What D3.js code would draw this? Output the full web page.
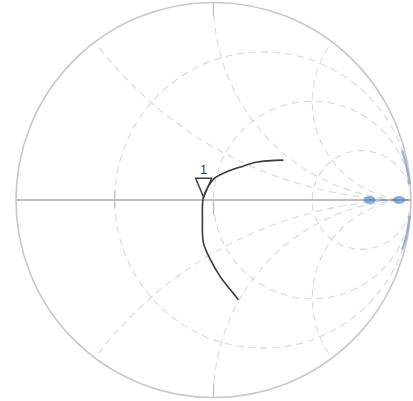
<!DOCTYPE html>
<html>
<head>
<meta charset="utf-8">
<script src="https://cdn.jsdelivr.net/npm/d3@7"></script>
<style>
html,body{margin:0;padding:0;background:#fff;}
svg{display:block;}
</style>
</head>
<body>
<svg id="chart" width="413" height="401"></svg>
<script>
// Grid values (normalized impedance)
const resistanceValues = [1/3, 1, 3];
const reactanceValues = [0.5, 1, 2, -0.5, -1, -2];
// Main trace, reflection coefficient (real, imag)
const traceRe = [0.354, 0.222, 0.136, 0.051, 0.003, -0.028, -0.052, -0.056, -0.051, -0.015, 0.035, 0.086, 0.126];
const traceIm = [0.202, 0.192, 0.167, 0.136, 0.108, 0.066, 0.010, -0.101, -0.217, -0.303, -0.389, -0.455, -0.505];
// Marker
const markerLabels = ["1"];
const markerRe = [-0.050];
const markerIm = [0.014];
// Secondary (blue) trace near open circuit
const blueRimRe = [0.955, 0.972, 0.985, 0.992];
const blueRimIm = [0.25, 0.19, 0.13, 0.08];
const blueRim2Re = [0.992, 0.985, 0.972, 0.955];
const blueRim2Im = [-0.08, -0.14, -0.20, -0.25];
const blueDotRe = [0.79, 0.94];
const blueDotIm = [0.0, 0.0];

const cx = 213.5, cy = 200, R = 197.5;
const x = d3.scaleLinear().domain([-1, 1]).range([cx - R, cx + R]);
const y = d3.scaleLinear().domain([-1, 1]).range([cy + R, cy - R]);
const k = R; // pixels per unit

const svg = d3.select("#chart");
svg.append("defs").append("clipPath").attr("id", "unit")
  .append("circle").attr("cx", x(0)).attr("cy", y(0)).attr("r", k);

const grid = svg.append("g").attr("clip-path", "url(#unit)")
  .attr("fill", "none").attr("stroke", "#d8d8d8").attr("stroke-width", 1.1)
  .attr("stroke-dasharray", "7,5");

grid.selectAll("circle.r").data(resistanceValues).join("circle")
  .attr("class", "r")
  .attr("cx", r => x(r / (1 + r)))
  .attr("cy", y(0))
  .attr("r", r => k / (1 + r));

grid.selectAll("circle.x").data(reactanceValues).join("circle")
  .attr("class", "x")
  .attr("cx", x(1))
  .attr("cy", v => y(1 / v))
  .attr("r", v => k / Math.abs(v));

// Horizontal axis
svg.append("line")
  .attr("x1", x(-1)).attr("x2", x(1)).attr("y1", y(0)).attr("y2", y(0))
  .attr("stroke", "#a8a8a8").attr("stroke-width", 1.3);

// Outer circle
svg.append("circle").attr("cx", x(0)).attr("cy", y(0)).attr("r", k)
  .attr("fill", "none").attr("stroke", "#c8c8c8").attr("stroke-width", 1.6);

// Small ticks
const ticks = svg.append("g").attr("stroke", "#bcbcbc").attr("stroke-width", 1.2);
ticks.append("line").attr("x1", x(-0.5)).attr("x2", x(-0.5)).attr("y1", y(0) - 9).attr("y2", y(0) + 8);
ticks.append("line").attr("x1", x(0)).attr("x2", x(0)).attr("y1", y(0)).attr("y2", y(0) + 15);
ticks.append("line").attr("x1", x(0)).attr("x2", x(0)).attr("y1", y(1)).attr("y2", y(1) + 14);
ticks.append("line").attr("x1", x(0)).attr("x2", x(0)).attr("y1", y(-1) - 14).attr("y2", y(-1));

// Blue secondary trace
const line = d3.line().x(d => x(d[0])).y(d => y(d[1])).curve(d3.curveCatmullRom);
svg.append("path").datum(blueRimRe.map((v, i) => [v, blueRimIm[i]]))
  .attr("d", line).attr("fill", "none").attr("stroke", "#6b9ad8").attr("stroke-width", 2.2).attr("opacity", 0.7);
svg.append("path").datum(blueRim2Re.map((v, i) => [v, blueRim2Im[i]]))
  .attr("d", line).attr("fill", "none").attr("stroke", "#6b9ad8").attr("stroke-width", 2.2).attr("opacity", 0.7);
svg.append("line")
  .attr("x1", x(blueDotRe[0])).attr("x2", x(1)).attr("y1", y(0)).attr("y2", y(0))
  .attr("stroke", "#5a8ed4").attr("stroke-width", 1.6).attr("stroke-dasharray", "6,5").attr("opacity", 0.8);
svg.selectAll("ellipse.bd").data(blueDotRe).join("ellipse")
  .attr("class", "bd")
  .attr("cx", (d) => x(d)).attr("cy", (d, i) => y(blueDotIm[i]))
  .attr("rx", 6).attr("ry", 4)
  .attr("fill", "#4a84d2").attr("opacity", 0.65);

// Main trace
svg.append("path").datum(traceRe.map((v, i) => [v, traceIm[i]]))
  .attr("d", line).attr("fill", "none").attr("stroke", "#3a3a3a").attr("stroke-width", 1.6);

// Marker (inverted triangle with apex at data point) and label
markerRe.forEach((m, i) => {
  const px = x(m), py = y(markerIm[i]);
  svg.append("path")
    .attr("d", `M${px - 8},${py - 19} L${px + 8},${py - 19} L${px},${py} Z`)
    .attr("fill", "none").attr("stroke", "#404040").attr("stroke-width", 1.5);
  svg.append("text").attr("x", px).attr("y", py - 23)
    .attr("text-anchor", "middle").attr("font-family", "Liberation Sans, Arial, sans-serif")
    .attr("font-size", 12).attr("fill", "#333").text(markerLabels[i]);
});
</script>
</body>
</html>
